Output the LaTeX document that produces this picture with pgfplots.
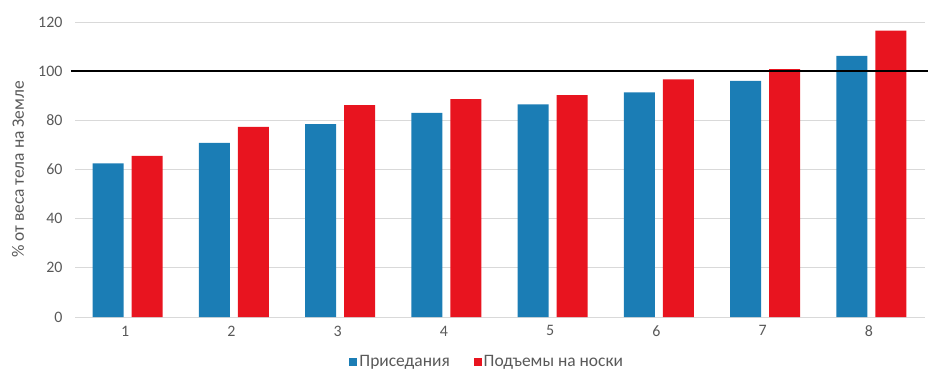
\documentclass[border=0pt]{standalone}
\usepackage{pgfplots}
\pgfplotsset{compat=1.18}
\usepackage{fontspec}
\setmainfont{Carlito}
\definecolor{cblue}{HTML}{1B7DB5}
\definecolor{cred}{HTML}{E8141F}
\definecolor{ctext}{HTML}{595959}
\definecolor{cgrid}{HTML}{D9D9D9}
\begin{document}
\begin{tikzpicture}
\useasboundingbox (0,0) rectangle (928bp,371bp);
\begin{axis}[
  at={(75bp,54bp)}, anchor=south west,
  scale only axis, width=850bp, height=295bp,
  xmin=0.5, xmax=8.5, ymin=0, ymax=120,
  ybar, bar width=31bp,
  xtick={1,...,8}, ytick={0,20,...,120},
  tick style={draw=none},
  axis x line*=bottom, axis y line*=left,
  x axis line style={draw=cgrid, line width=1pt},
  y axis line style={draw=none},
  ymajorgrids, grid style={cgrid, line width=0.8pt},
  font=\fontsize{16}{18}\selectfont,
  tick label style={text=ctext},
  /pgf/number format/assume math mode=true,
  yticklabel style={xshift=-9bp},
  xticklabel style={yshift=-1bp, xshift=-3bp},
  clip=false,
  legend style={draw=none, at={(0.485,-0.153)}, anchor=center, legend columns=2,
    font=\fontsize{17.5}{19}\selectfont, text=ctext,
    /tikz/every even column/.append style={column sep=22bp}},
  legend image code/.code={\fill[#1] (0bp,-4bp) rectangle (8bp,4bp);},
]
\addplot[fill=cblue, draw=none, bar shift=-20bp] coordinates {
 (1,62.5) (2,70.8) (3,78.5) (4,83) (5,86.5) (6,91.4) (7,96) (8,106.2)};
\addlegendentry{Приседания}
\addplot[fill=cred, draw=none, bar shift=19bp] coordinates {
 (1,65.5) (2,77.3) (3,86.2) (4,88.6) (5,90.3) (6,96.7) (7,100.8) (8,116.5)};
\addlegendentry{Подъемы на носки}
\addplot[sharp plot, black, line width=2pt, forget plot] coordinates {(0.46,100) (8.53,100)};
\node[rotate=90, text=ctext, font=\fontsize{17.5}{19}\selectfont] at (axis description cs:-0.067,0.5) {\% от веса тела на Земле};
\end{axis}
\end{tikzpicture}
\end{document}
